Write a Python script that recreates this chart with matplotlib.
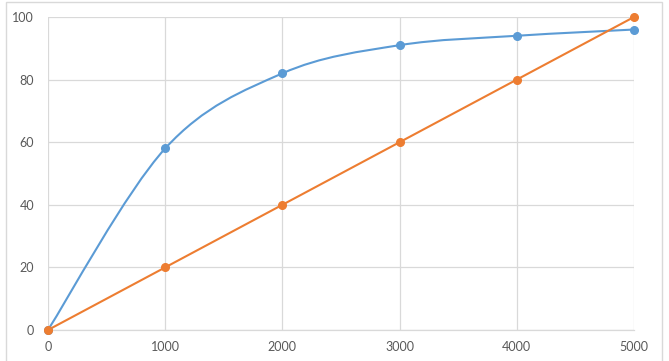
import matplotlib.pyplot as plt
import numpy as np
from matplotlib.path import Path
from matplotlib.patches import PathPatch, Rectangle

x_vals = [0, 1000, 2000, 3000, 4000, 5000]
blue_vals = [0, 58, 82, 91, 94, 96]
orange_vals = [0, 20, 40, 60, 80, 100]

x_ticks = [0, 1000, 2000, 3000, 4000, 5000]
y_ticks = [0, 20, 40, 60, 80, 100]

BLUE = "#5B9BD5"
ORANGE = "#ED7D31"
GRID = "#D9D9D9"
TEXT = "#595959"


def smooth_path(xs, ys):
    # Excel-style smoothed line: cubic bezier segments through each point
    pts = np.column_stack([xs, ys]).astype(float)
    n = len(pts)
    verts = [pts[0]]
    codes = [Path.MOVETO]
    for i in range(n - 1):
        p0 = pts[max(i - 1, 0)]
        p1 = pts[i]
        p2 = pts[i + 1]
        p3 = pts[min(i + 2, n - 1)]
        c1 = p1 + (p2 - p0) / 6.0
        c2 = p2 - (p3 - p1) / 6.0
        verts += [c1, c2, p2]
        codes += [Path.CURVE4] * 3
    return Path(verts, codes)


plt.rcParams['font.family'] = ['Lato', 'DejaVu Sans']

fig = plt.figure(figsize=(6.69, 3.61), dpi=100)
ax = fig.add_axes([0.0717, 0.0859, 0.8760, 0.8670])

for ys, col in ((blue_vals, BLUE), (orange_vals, ORANGE)):
    ax.add_patch(PathPatch(smooth_path(x_vals, ys), facecolor="none",
                           edgecolor=col, lw=1.5, zorder=3, clip_on=False))
    ax.plot(x_vals, ys, "o", color=col, ms=5.5, zorder=4, clip_on=False)

ax.set_xlim(0, 5000)
ax.set_ylim(0, 100)
ax.set_xticks(x_ticks)
ax.set_yticks(y_ticks)
ax.grid(True, color=GRID, lw=0.9)
ax.set_axisbelow(True)
for s in ("top", "right", "left"):
    ax.spines[s].set_visible(False)
ax.spines["bottom"].set_color(GRID)
ax.spines["bottom"].set_linewidth(0.9)
ax.tick_params(length=0, colors=TEXT, labelsize=9, pad=8)
ax.tick_params(axis="y", pad=10)

# chart-area border (bottom edge falls outside the image)
fig.patches.append(Rectangle((5.5 / 669, -0.05), 656 / 669, 1.05 - 1.5 / 361,
                             transform=fig.transFigure, fill=False,
                             edgecolor=GRID, lw=1))

fig.savefig("out.png", dpi=100)
